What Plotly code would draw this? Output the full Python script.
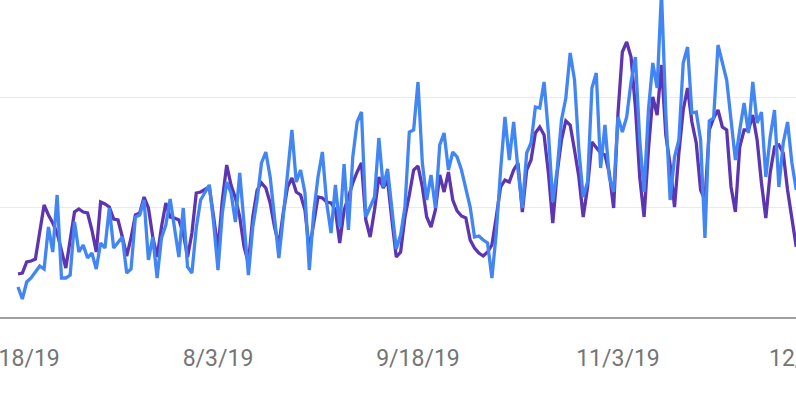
import pandas as pd
import plotly.graph_objects as go

start_date = "2019-06-18"
n_days = 180

impressions = [
    43, 44, 55, 56, 58, 87, 112, 102, 94, 84, 65, 49, 77, 105, 108, 105, 104, 87, 65, 115,
    113, 110, 98, 97, 80, 61, 79, 102, 104, 120, 109, 80, 60, 90, 114, 100, 99, 97, 84, 60,
    84, 124, 125, 128, 130, 100, 67, 117, 152, 132, 119, 100, 70, 54, 100, 127, 134, 129, 114, 90,
    72, 104, 130, 139, 125, 122, 107, 67, 94, 120, 119, 115, 114, 107, 74, 107, 120, 134, 145, 154,
    97, 80, 107, 140, 129, 137, 97, 60, 65, 100, 122, 147, 151, 130, 100, 90, 107, 142, 125, 145,
    117, 106, 101, 99, 77, 69, 64, 61, 65, 72, 100, 130, 137, 135, 147, 154, 105, 147, 157, 184,
    190, 182, 144, 94, 144, 177, 196, 192, 167, 140, 100, 130, 175, 169, 164, 162, 144, 109, 204, 265,
    275, 260, 210, 140, 100, 167, 220, 202, 252, 182, 152, 110, 164, 207, 229, 195, 174, 127, 117, 187,
    199, 207, 190, 187, 130, 105, 170, 187, 187, 202, 177, 134, 99, 144, 170, 172, 164, 127, 100, 70,
]

clicks = [
    30, 18, 35, 39, 45, 51, 48, 90, 65, 122, 39, 39, 42, 95, 65, 72, 59, 64, 48, 74,
    69, 109, 69, 75, 80, 44, 48, 100, 102, 117, 57, 80, 39, 79, 92, 118, 87, 60, 109, 50,
    44, 89, 117, 125, 132, 94, 47, 104, 135, 124, 95, 144, 90, 42, 90, 117, 154, 165, 140, 97,
    59, 100, 140, 187, 135, 147, 124, 47, 104, 140, 165, 114, 84, 132, 90, 153, 87, 160, 195, 205,
    100, 110, 120, 179, 130, 148, 107, 68, 82, 110, 185, 187, 235, 154, 117, 142, 109, 172, 184, 147,
    165, 160, 147, 130, 110, 80, 81, 77, 74, 39, 84, 147, 200, 157, 195, 147, 109, 164, 174, 210,
    209, 235, 184, 115, 147, 197, 219, 264, 237, 167, 120, 135, 229, 244, 149, 192, 140, 125, 200, 185,
    200, 235, 260, 177, 125, 207, 254, 229, 325, 204, 117, 160, 177, 254, 270, 204, 205, 177, 79, 196,
    199, 272, 254, 237, 197, 157, 187, 214, 184, 235, 194, 205, 140, 180, 207, 130, 174, 195, 154, 127,
]

tick_dates = ["2019-06-18", "2019-08-03", "2019-09-18", "2019-11-03"]
tick_labels = ["6/18/19", "8/3/19", "9/18/19", "11/3/19"]
extra_tick_date = "2019-12-19"
extra_tick_label = "12/19/19"

x_range = [pd.Timestamp("2019-06-13 20:38"), pd.Timestamp("2019-12-13 22:35")]

dates = pd.date_range(start_date, periods=n_days, freq="D")

# paper position of the tick that lies just past the right edge of the axis
span = (x_range[1] - x_range[0]).total_seconds()
extra_x = (pd.Timestamp(extra_tick_date) - x_range[0]).total_seconds() / span

fig = go.Figure()
fig.add_trace(go.Scatter(x=dates, y=impressions, mode="lines",
                         line=dict(color="#5e35b1", width=3.3), showlegend=False,
                         hoverinfo="skip"))
fig.add_trace(go.Scatter(x=dates, y=clicks, mode="lines",
                         line=dict(color="#4285f4", width=3.3), showlegend=False,
                         hoverinfo="skip"))

label_font = dict(family="Roboto", size=23, color="#757575")

fig.update_layout(
    width=796, height=398,
    margin=dict(l=0, r=0, t=0, b=81),
    paper_bgcolor="white", plot_bgcolor="white",
    xaxis=dict(
        type="date",
        range=[str(x_range[0]), str(x_range[1])],
        tickvals=tick_dates, ticktext=tick_labels,
        ticks="", showgrid=False, zeroline=False,
        showline=True, linecolor="#9e9e9e", linewidth=1.5,
        tickfont=label_font, ticklabeloverflow="allow",
        ticklabelstandoff=20, automargin=False,
    ),
    yaxis=dict(
        range=[0, 317], dtick=110, tick0=0,
        showticklabels=False, ticks="",
        showgrid=True, gridcolor="#ebebeb", gridwidth=1,
        zeroline=False, showline=False, automargin=False,
    ),
    annotations=[dict(
        x=extra_x, xref="paper", y=-0.131, yref="paper",
        text=extra_tick_label, showarrow=False, font=label_font,
        xanchor="center", yanchor="middle",
    )],
)

fig.write_html("out.html",
               config={"displayModeBar": False},
               post_script="document.body.style.margin='0';document.body.style.overflow='hidden';")
